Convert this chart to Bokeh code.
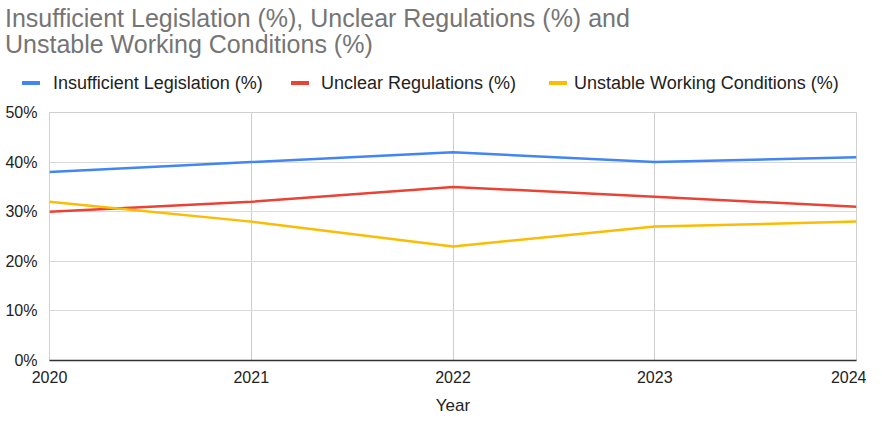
from bokeh.plotting import figure
from bokeh.layouts import column
from bokeh.models import Range1d, FixedTicker, PrintfTickFormatter, Div
from bokeh.embed import file_html
from bokeh.resources import INLINE

years = [2020, 2021, 2022, 2023, 2024]
insufficient = [38, 40, 42, 40, 41]
unclear = [30, 32, 35, 33, 31]
unstable = [32, 28, 23, 27, 28]
names = ["Insufficient Legislation (%)", "Unclear Regulations (%)", "Unstable Working Conditions (%)"]
colors = ["#4285F4", "#EA4335", "#FBBC04"]
y_ticks = [0, 10, 20, 30, 40, 50]
title_lines = ["Insufficient Legislation (%), Unclear Regulations (%) and",
               "Unstable Working Conditions (%)"]

FONT = "Liberation Sans"
W = 866
HEAD_H = 100
MAIN_H = 317

# ---- header: title + legend as HTML text ----
swatch_x = [22, 291, 549]
text_x = [53, 321, 574]
parts = [f'<div style="position:relative;width:{W}px;height:{HEAD_H}px;'
         f"font-family:'{FONT}',Arial,sans-serif;\">"]
for i, t in enumerate(title_lines):
    parts.append(f'<div style="position:absolute;left:5px;top:{5 + 26 * i}px;font-size:25px;'
                 f'line-height:26px;color:#757575;white-space:nowrap;">{t}</div>')
for n, c, sx, tx in zip(names, colors, swatch_x, text_x):
    parts.append(f'<div style="position:absolute;left:{sx}px;top:81px;width:18px;height:4px;'
                 f'background:{c};"></div>')
    parts.append(f'<div style="position:absolute;left:{tx}px;top:72px;font-size:18px;'
                 f'line-height:22px;color:#222222;white-space:nowrap;">{n}</div>')
parts.append('</div>')
head = Div(text="".join(parts), width=W, height=HEAD_H, margin=0)

# ---- main chart ----
p = figure(width=W, height=MAIN_H, output_backend="svg", toolbar_location=None,
           x_range=Range1d(2020, 2024), y_range=Range1d(0, 50),
           min_border_left=49, min_border_right=10, min_border_top=12, min_border_bottom=55)
p.title.text_font_size = "0px"

for vals, c in zip([insufficient, unclear, unstable], colors):
    p.line(years, vals, line_color=c, line_width=2.5)

p.xaxis.ticker = FixedTicker(ticks=years)
p.yaxis.ticker = FixedTicker(ticks=y_ticks)
p.yaxis.formatter = PrintfTickFormatter(format="%d%%")
for ax in [p.xaxis[0], p.yaxis[0]]:
    ax.major_tick_line_color = None
    ax.minor_tick_line_color = None
    ax.major_label_text_font = FONT
    ax.major_label_text_font_size = "16px"
    ax.major_label_text_color = "#222222"
p.yaxis.axis_line_color = None
p.xaxis.axis_line_color = "#333333"
p.xaxis.axis_line_width = 1.5
p.xaxis.major_label_standoff = 4
p.yaxis.major_label_standoff = 6
p.xaxis.axis_label = "Year"
p.xaxis.axis_label_text_font = FONT
p.xaxis.axis_label_text_font_size = "17px"
p.xaxis.axis_label_text_font_style = "normal"
p.xaxis.axis_label_text_color = "#222222"
p.xaxis.axis_label_standoff = 10

p.xgrid.grid_line_color = "#cccccc"
p.ygrid.grid_line_color = "#d9d9d9"
p.outline_line_color = "#d0d0d0"
p.background_fill_color = "white"
p.border_fill_color = "white"

layout = column(head, p, spacing=0)
open("out.html", "w").write(file_html(layout, INLINE))
